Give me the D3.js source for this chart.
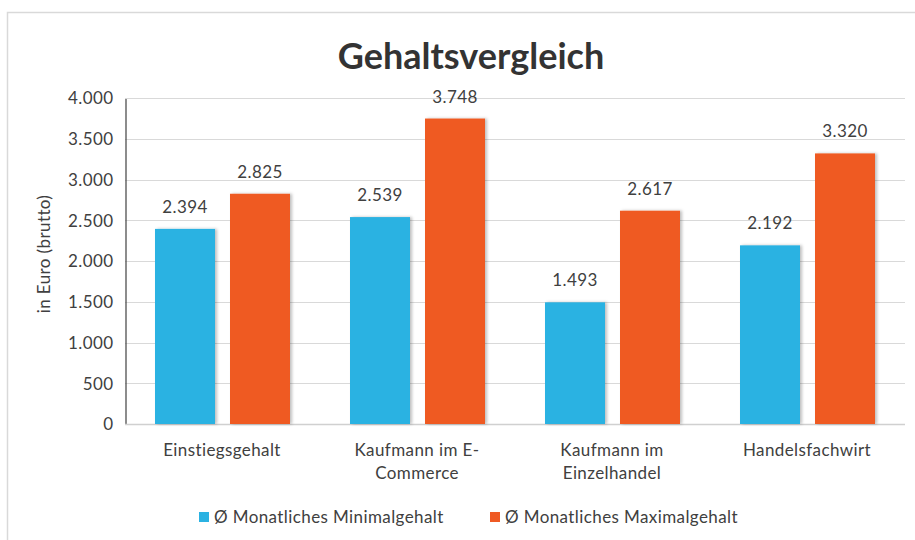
<!DOCTYPE html>
<html>
<head>
<meta charset="utf-8">
<script src="https://cdn.jsdelivr.net/npm/d3@7"></script>
<style>
  body { margin: 0; background: #fff; }
  svg { font-family: Lato, "Noto Sans", sans-serif; }
  .lbl { font-size: 17px; letter-spacing: 0.4px; fill: #404040; }
</style>
</head>
<body>
<svg id="chart" width="915" height="540"></svg>
<script>
const categories = ["Einstiegsgehalt", "Kaufmann im E-Commerce", "Kaufmann im Einzelhandel", "Handelsfachwirt"];
const categoryLines = [["Einstiegsgehalt"], ["Kaufmann im E-", "Commerce"], ["Kaufmann im", "Einzelhandel"], ["Handelsfachwirt"]];
const seriesNames = ["Ø Monatliches Minimalgehalt", "Ø Monatliches Maximalgehalt"];
const minValues = [2394, 2539, 1493, 2192];
const maxValues = [2825, 3748, 2617, 3320];
const yTicks = [0, 500, 1000, 1500, 2000, 2500, 3000, 3500, 4000];
const colors = ["#2bb2e2", "#ef5a24"];

const svg = d3.select("#chart");
const de = d3.formatLocale({ decimal: ",", thousands: ".", grouping: [3], currency: ["", " €"] });
const fmt = de.format(",d");

// rahmen
svg.append("path")
  .attr("d", "M7.5,540 L7.5,12.5 L915,12.5")
  .attr("fill", "none")
  .attr("stroke", "#d9d9d9")
  .attr("stroke-width", 1.5);

const defs = svg.append("defs");
const shadow = defs.append("filter").attr("id", "shadow")
  .attr("x", "-20%").attr("y", "-5%").attr("width", "140%").attr("height", "110%");
shadow.append("feDropShadow")
  .attr("dx", 2).attr("dy", 0).attr("stdDeviation", 1.5)
  .attr("flood-color", "#000").attr("flood-opacity", 0.25);

const x = d3.scaleBand().domain(categories).range([125, 905]);
const xs = d3.scaleBand().domain(seriesNames).range([30, 165]).paddingInner(0.2);
const y = d3.scaleLinear().domain([0, 4000]).range([424, 98]);

// gitterlinien
svg.append("g")
  .selectAll("line")
  .data(yTicks.filter(d => d > 0))
  .join("line")
  .attr("x1", 125).attr("x2", 905)
  .attr("y1", d => Math.round(y(d)) + 0.5).attr("y2", d => Math.round(y(d)) + 0.5)
  .attr("stroke", "#d9d9d9").attr("stroke-width", 1);

// y achse
const yAxis = svg.append("g")
  .attr("transform", "translate(125.5,0.5)")
  .call(d3.axisLeft(y).tickValues(yTicks).tickFormat(fmt).tickSize(0).tickPadding(12));
yAxis.select(".domain").attr("stroke", "#404040").attr("stroke-width", 1.2);
yAxis.selectAll("text")
  .attr("class", "lbl")
  .attr("fill", null)
  .style("font-family", "Lato, 'Noto Sans', sans-serif");
yAxis.attr("font-size", null);

// x achse
svg.append("line")
  .attr("x1", 125).attr("x2", 905)
  .attr("y1", 424.5).attr("y2", 424.5)
  .attr("stroke", "#d0d0d0").attr("stroke-width", 1.5);

// balken
const rows = categories.map((c, i) => ({ cat: c, values: [minValues[i], maxValues[i]] }));
const groups = svg.append("g")
  .selectAll("g")
  .data(rows)
  .join("g")
  .attr("transform", d => `translate(${x(d.cat)},0)`);

groups.selectAll("rect")
  .data(d => d.values.map((v, j) => ({ name: seriesNames[j], v: v, j: j })))
  .join("rect")
  .attr("x", d => xs(d.name))
  .attr("width", xs.bandwidth())
  .attr("y", d => y(d.v))
  .attr("height", d => y(0) - y(d.v))
  .attr("fill", d => colors[d.j])
  .attr("filter", "url(#shadow)");

groups.selectAll("text.val")
  .data(d => d.values.map((v, j) => ({ name: seriesNames[j], v: v })))
  .join("text")
  .attr("class", "val lbl")
  .attr("x", d => xs(d.name) + xs.bandwidth() / 2)
  .attr("y", d => y(d.v) - 16)
  .attr("text-anchor", "middle")
  .text(d => fmt(d.v));

// kategorien
const catText = svg.append("g")
  .selectAll("text")
  .data(categories)
  .join("text")
  .attr("class", "lbl")
  .attr("x", d => x(d) + x.bandwidth() / 2 - 0.5)
  .attr("y", 456)
  .attr("text-anchor", "middle");
catText.selectAll("tspan")
  .data((d, i) => categoryLines[i])
  .join("tspan")
  .attr("x", function () { return d3.select(this.parentNode).attr("x"); })
  .attr("dy", (d, i) => i == 0 ? 0 : 23)
  .text(d => d);

// titel
svg.append("text")
  .attr("x", 471)
  .attr("y", 69)
  .attr("text-anchor", "middle")
  .attr("fill", "#333")
  .style("font-size", "36px")
  .style("font-weight", "bold")
  .text("Gehaltsvergleich");

// y beschriftung
svg.append("text")
  .attr("class", "lbl")
  .attr("transform", "translate(50,254) rotate(-90)")
  .attr("text-anchor", "middle")
  .text("in Euro (brutto)");

// legende
const legendX = [199, 490];
const legend = svg.append("g")
  .selectAll("g")
  .data(seriesNames)
  .join("g")
  .attr("transform", (d, i) => `translate(${legendX[i]},512)`);
legend.append("rect")
  .attr("width", 10).attr("height", 10)
  .attr("fill", (d, i) => colors[i]);
legend.append("text")
  .attr("class", "lbl")
  .attr("x", 15).attr("y", 11)
  .text(d => d);
</script>
</body>
</html>
